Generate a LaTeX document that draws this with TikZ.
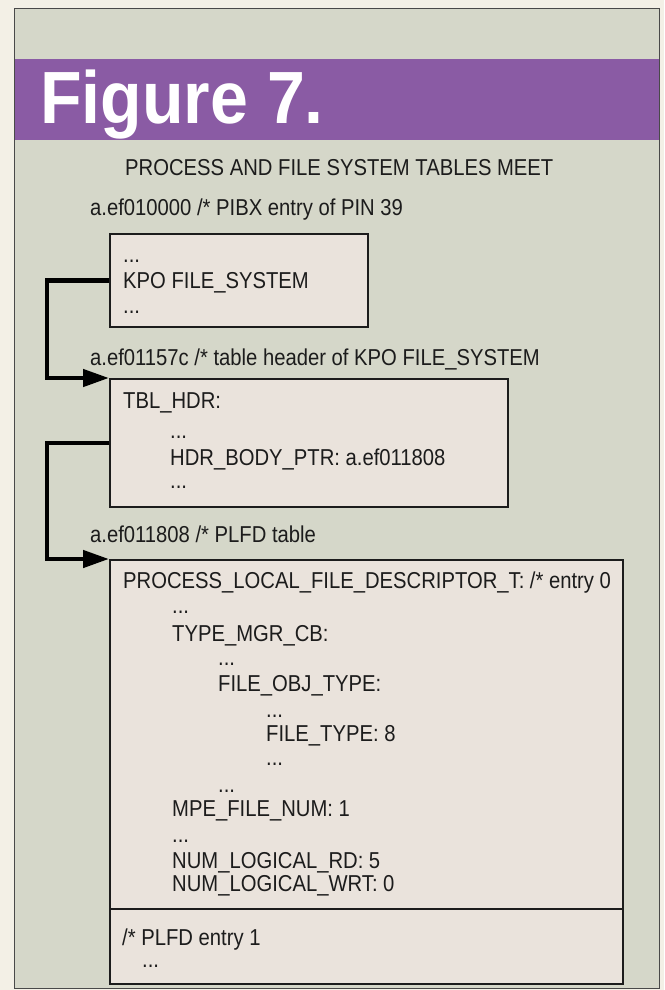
\documentclass[tikz,border=0pt]{standalone}
\usepackage{fontspec}
\setmainfont{Liberation Sans}
\newfontfamily\bodyfont[FakeStretch=0.88]{Liberation Sans}
\newfontfamily\figfont[FakeStretch=0.92]{Liberation Sans}
\usetikzlibrary{arrows.meta}
\definecolor{paper}{RGB}{243,240,230}
\definecolor{panel}{RGB}{213,215,201}
\definecolor{plum}{RGB}{138,91,164}
\definecolor{boxfill}{RGB}{234,227,220}
\definecolor{ink}{RGB}{28,28,28}
\begin{document}
\begin{tikzpicture}[x=1pt,y=-1pt,
  txt/.style={anchor=base west, inner sep=0pt, text=ink, font=\bodyfont\fontsize{23}{27}\selectfont},
  tbox/.style={draw=ink, line width=1.8pt, fill=boxfill, anchor=north west, inner sep=0pt},
  conn/.style={draw=black, line width=4.5pt, line join=miter, -{Triangle[length=26pt,width=17pt]}}]
\useasboundingbox (0,0) rectangle (664,990);
\fill[paper] (0,0) rectangle (664,990);
% panel
\fill[panel] (14,9) rectangle (659,988);
\fill[plum] (14,59) rectangle (659,140);
\draw[ink!80, line width=1pt] (14,9) rectangle (659,988);
\node[anchor=base west, inner sep=0pt, text=white, font=\figfont\bfseries\fontsize{74}{80}\selectfont] (fig) at (40,123) {Figure 7.};
\node[txt] (title) at (125,175) {PROCESS AND FILE SYSTEM TABLES MEET};
% labels
\node[txt] (l1) at (90,215) {a.ef010000 /* PIBX entry of PIN 39};
\node[txt] (l2) at (90,365) {a.ef01157c /* table header of KPO FILE\_SYSTEM};
\node[txt] (l3) at (90,542) {a.ef011808 /* PLFD table};
% boxes
\node[tbox, minimum width=258pt, minimum height=93pt] (b1) at (109,233) {};
\node[tbox, minimum width=398pt, minimum height=128pt] (b2) at (109,378) {};
\node[tbox, minimum width=513pt, minimum height=424pt] (b3) at (109,559) {};
\coordinate (d1) at (109,909);
\coordinate (d2) at (622,909);
\draw[ink, line width=1.8pt] (d1) -- (d2);
% connectors
\draw[conn] (b1.west) -- ++(-62,0) |- (b2.north west);
\draw[conn] (b2.west) -- ++(-62,0) |- (b3.north west);
% box 1 text
\node[txt] (t11) at (123,262) {...};
\node[txt] (t12) at (123,288) {KPO FILE\_SYSTEM};
\node[txt] (t13) at (123,313) {...};
% box 2 text
\node[txt] (t21) at (123,408) {TBL\_HDR:};
\node[txt] (t22) at (170,438) {...};
\node[txt] (t23) at (170,465) {HDR\_BODY\_PTR: a.ef011808};
\node[txt] (t24) at (170,488) {...};
% box 3 text
\node[txt] (t31) at (123,588) {PROCESS\_LOCAL\_FILE\_DESCRIPTOR\_T: /* entry 0};
\node[txt] (t32) at (172,613) {...};
\node[txt] (t33) at (172,641) {TYPE\_MGR\_CB:};
\node[txt] (t34) at (218,665) {...};
\node[txt] (t35) at (218,691) {FILE\_OBJ\_TYPE:};
\node[txt] (t36) at (266,717) {...};
\node[txt] (t37) at (266,741) {FILE\_TYPE: 8};
\node[txt] (t38) at (266,765) {...};
\node[txt] (t39) at (218,792) {...};
\node[txt] (t40) at (172,816) {MPE\_FILE\_NUM: 1};
\node[txt] (t41) at (172,842) {...};
\node[txt] (t42) at (172,868) {NUM\_LOGICAL\_RD: 5};
\node[txt] (t43) at (172,891) {NUM\_LOGICAL\_WRT: 0};
\node[txt] (t44) at (122,945) {/* PLFD entry 1};
\node[txt] (t45) at (142,967) {...};
\end{tikzpicture}
\end{document}
